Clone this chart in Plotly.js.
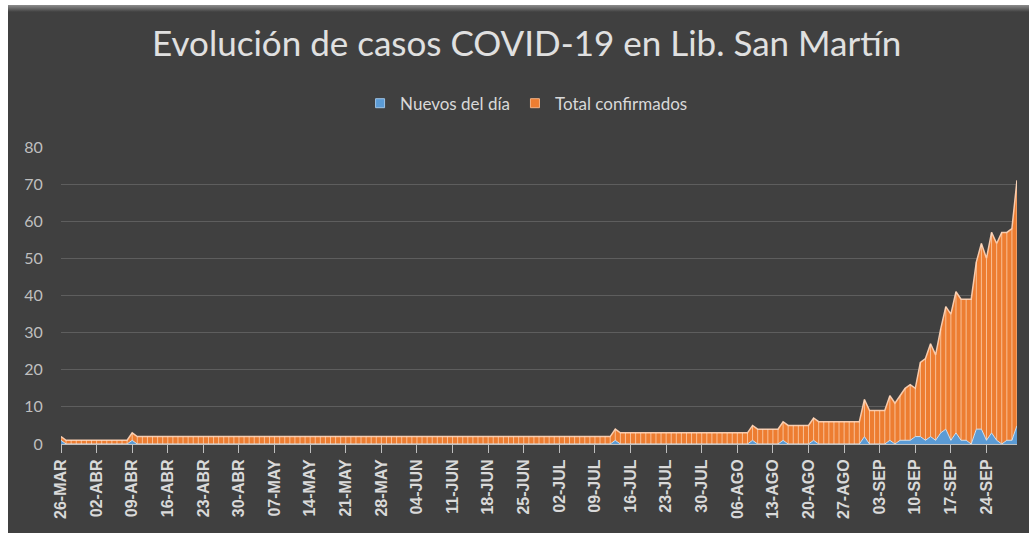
<!DOCTYPE html>
<html>
<head>
<meta charset="utf-8">
<script src="https://cdn.plot.ly/plotly-3.0.1.min.js"></script>
<style>
  html, body { margin: 0; padding: 0; background: #ffffff; width: 1029px; height: 533px; overflow: hidden; }
  #chart { position: absolute; left: 8px; top: 5px; width: 1021px; height: 528px; }
  #bevel { position: absolute; left: 8px; top: 5px; width: 1021px; height: 7px;
           background: linear-gradient(#8c8c8c, #404040); z-index: 5; pointer-events: none; }
</style>
</head>
<body>
<div id="chart"></div>
<div id="bevel"></div>
<script>
// ---- data, one row per week starting at each tick date ----
const startDate = '2020-03-26';
const nDays = 189; // 26-MAR .. 30-SEP

const nuevosDelDia = [
  1,0,0,0,0,0,0,   // 26-MAR
  0,0,0,0,0,0,0,   // 02-ABR
  1,0,0,0,0,0,0,   // 09-ABR
  0,0,0,0,0,0,0,   // 16-ABR
  0,0,0,0,0,0,0,   // 23-ABR
  0,0,0,0,0,0,0,   // 30-ABR
  0,0,0,0,0,0,0,   // 07-MAY
  0,0,0,0,0,0,0,   // 14-MAY
  0,0,0,0,0,0,0,   // 21-MAY
  0,0,0,0,0,0,0,   // 28-MAY
  0,0,0,0,0,0,0,   // 04-JUN
  0,0,0,0,0,0,0,   // 11-JUN
  0,0,0,0,0,0,0,   // 18-JUN
  0,0,0,0,0,0,0,   // 25-JUN
  0,0,0,0,0,0,0,   // 02-JUL
  0,0,0,0,1,0,0,   // 09-JUL
  0,0,0,0,0,0,0,   // 16-JUL
  0,0,0,0,0,0,0,   // 23-JUL
  0,0,0,0,0,0,0,   // 30-JUL
  0,0,0,1,0,0,0,   // 06-AGO
  0,0,1,0,0,0,0,   // 13-AGO
  0,1,0,0,0,0,0,   // 20-AGO
  0,0,0,0,2,0,0,   // 27-AGO
  0,0,1,0,1,1,1,   // 03-SEP
  2,2,1,2,1,3,4,   // 10-SEP
  1,3,1,1,0,4,4,   // 17-SEP
  1,3,1,0,1,1,5    // 24-SEP
];

const totalConfirmados = [
  1,1,1,1,1,1,1,   // 26-MAR
  1,1,1,1,1,1,1,   // 02-ABR
  2,2,2,2,2,2,2,   // 09-ABR
  2,2,2,2,2,2,2,   // 16-ABR
  2,2,2,2,2,2,2,   // 23-ABR
  2,2,2,2,2,2,2,   // 30-ABR
  2,2,2,2,2,2,2,   // 07-MAY
  2,2,2,2,2,2,2,   // 14-MAY
  2,2,2,2,2,2,2,   // 21-MAY
  2,2,2,2,2,2,2,   // 28-MAY
  2,2,2,2,2,2,2,   // 04-JUN
  2,2,2,2,2,2,2,   // 11-JUN
  2,2,2,2,2,2,2,   // 18-JUN
  2,2,2,2,2,2,2,   // 25-JUN
  2,2,2,2,2,2,2,   // 02-JUL
  2,2,2,2,3,3,3,   // 09-JUL
  3,3,3,3,3,3,3,   // 16-JUL
  3,3,3,3,3,3,3,   // 23-JUL
  3,3,3,3,3,3,3,   // 30-JUL
  3,3,3,4,4,4,4,   // 06-AGO
  4,4,5,5,5,5,5,   // 13-AGO
  5,6,6,6,6,6,6,   // 20-AGO
  6,6,6,6,10,9,9,  // 27-AGO
  9,9,12,11,12,14,15,   // 03-SEP
  13,20,22,25,23,28,33, // 10-SEP
  34,38,38,38,39,45,50, // 17-SEP
  49,54,53,57,56,57,66  // 24-SEP
];

const tickDates = [
  '2020-03-26','2020-04-02','2020-04-09','2020-04-16','2020-04-23','2020-04-30',
  '2020-05-07','2020-05-14','2020-05-21','2020-05-28','2020-06-04','2020-06-11',
  '2020-06-18','2020-06-25','2020-07-02','2020-07-09','2020-07-16','2020-07-23',
  '2020-07-30','2020-08-06','2020-08-13','2020-08-20','2020-08-27','2020-09-03',
  '2020-09-10','2020-09-17','2020-09-24'
];
const tickLabels = [
  '26-MAR','02-ABR','09-ABR','16-ABR','23-ABR','30-ABR',
  '07-MAY','14-MAY','21-MAY','28-MAY','04-JUN','11-JUN',
  '18-JUN','25-JUN','02-JUL','09-JUL','16-JUL','23-JUL',
  '30-JUL','06-AGO','13-AGO','20-AGO','27-AGO','03-SEP',
  '10-SEP','17-SEP','24-SEP'
];

const yTicks = [0,10,20,30,40,50,60,70,80];

// ---- build date categories ----
const dates = [];
for (let i = 0; i < nDays; i++) {
  const t = new Date(Date.UTC(2020, 2, 26 + i));
  dates.push(t.toISOString().slice(0, 10));
}
const tops = nuevosDelDia.map((v, i) => v + totalConfirmados[i]);

const BG = '#404040';
const BLUE = '#5b9bd5';
const ORANGE = '#ed7d31';

const traces = [
  {
    x: dates, y: nuevosDelDia, name: 'Nuevos del día',
    type: 'scatter', mode: 'lines', stackgroup: 'one',
    line: { color: '#cfe2f3', width: 1 },
    fillcolor: BLUE, hoverinfo: 'skip', showlegend: false
  },
  {
    x: dates, y: totalConfirmados, name: 'Total confirmados',
    type: 'scatter', mode: 'lines', stackgroup: 'one',
    line: { color: '#f8cbad', width: 1.5 },
    fillcolor: ORANGE, hoverinfo: 'skip', showlegend: false
  },
  {
    x: dates, y: tops, type: 'scatter', mode: 'markers',
    marker: { size: 1, color: 'rgba(0,0,0,0)' },
    error_y: {
      type: 'data', symmetric: false,
      array: tops.map(() => 0), arrayminus: totalConfirmados,
      width: 0, thickness: 1, color: 'rgba(255,228,205,0.65)'
    },
    showlegend: false, hoverinfo: 'skip'
  },
  // legend entries (square swatches)
  { x: [null], y: [null], type: 'scatter', mode: 'markers', name: 'Nuevos del día',
    marker: { symbol: 'square', size: 9, color: BLUE, line: { color: '#9dc3e6', width: 1 } } },
  { x: [null], y: [null], type: 'scatter', mode: 'markers', name: 'Total confirmados',
    marker: { symbol: 'square', size: 9, color: ORANGE, line: { color: '#f4b183', width: 1 } } }
];

const layout = {
  width: 1021, height: 528,
  paper_bgcolor: BG, plot_bgcolor: BG,
  margin: { l: 53, r: 12, t: 142, b: 89 },
  hovermode: false,
  title: {
    text: 'Evolución de casos COVID-19 en Lib. San Martín',
    font: { family: 'Lato, Open Sans, sans-serif', size: 35, color: '#e0e0e0', weight: 400 },
    x: 0.508, xref: 'container', xanchor: 'center',
    y: 0.926, yref: 'container', yanchor: 'middle'
  },
  showlegend: true,
  legend: {
    orientation: 'h', x: 0.487, xanchor: 'center', y: 1.146, yanchor: 'middle',
    font: { family: 'Lato, Open Sans, sans-serif', size: 17, color: '#d9d9d9' },
    bgcolor: 'rgba(0,0,0,0)', itemwidth: 30, traceorder: 'normal'
  },
  xaxis: {
    type: 'date', range: ['2020-03-26', '2020-09-30'],
    tickmode: 'array', tickvals: tickDates, ticktext: tickLabels,
    tickangle: -90, ticks: 'outside', ticklen: 8, tickcolor: '#bfbfbf', tickwidth: 1,
    tickfont: { family: 'Liberation Sans, Arial, sans-serif', size: 16, color: '#d9d9d9', weight: 'bold' },
    showgrid: false, zeroline: false,
    showline: true, linecolor: '#bfbfbf', linewidth: 1
  },
  yaxis: {
    range: [0, 80], tickmode: 'array', tickvals: yTicks,
    ticks: 'outside', ticklen: 14, tickcolor: 'rgba(0,0,0,0)',
    tickfont: { family: 'Lato, Open Sans, sans-serif', size: 16, color: '#bfbfbf' },
    showgrid: true, gridcolor: '#5e5e5e', gridwidth: 1,
    zeroline: false, showline: false
  }
};

Plotly.newPlot('chart', traces, layout, { displayModeBar: false, staticPlot: true });
</script>
</body>
</html>
